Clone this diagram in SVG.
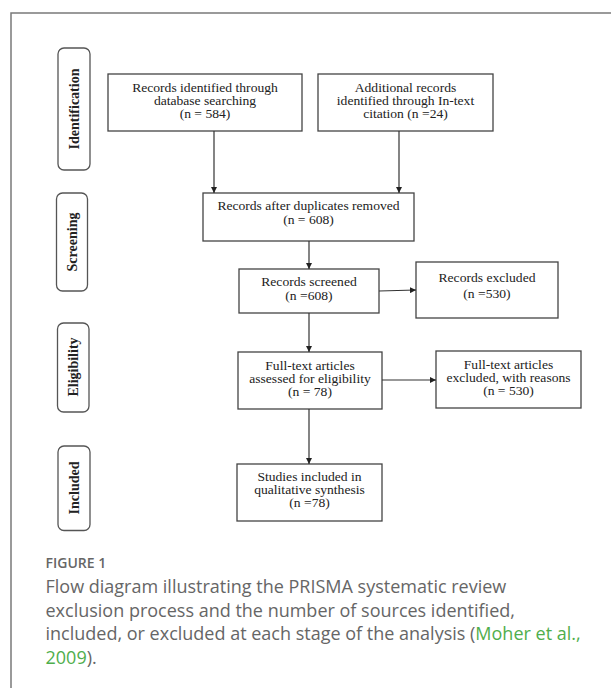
<svg xmlns="http://www.w3.org/2000/svg" width="611" height="688" viewBox="0 0 611 688">
<defs>
<marker id="ah" viewBox="0 0 10 10" refX="10" refY="5" markerWidth="6" markerHeight="6" markerUnits="userSpaceOnUse" orient="auto">
<path d="M0,0 L10,5 L0,10 z" fill="#222"/>
</marker>
<style>
.frame{fill:none;stroke:#7a7a7a;stroke-width:1.5}
.pill{fill:#fff;stroke:#555;stroke-width:1.3}
.box{fill:#fff;stroke:#444;stroke-width:1.3}
.pt{font-family:"Liberation Serif","Times New Roman",serif;font-weight:bold;font-size:14px;fill:#222;text-anchor:middle}
.bt{font-family:"Liberation Serif","Times New Roman",serif;font-size:13.6px;fill:#222;text-anchor:middle}
.conn{fill:none;stroke:#333;stroke-width:1.2;marker-end:url(#ah)}
.fig{font-family:"Open Sans","Noto Sans",sans-serif;font-weight:600;font-size:14px;fill:#666}
.cap{font-family:"Open Sans","Noto Sans",sans-serif;font-size:18px;fill:#666}
.link{fill:#4fae4c}
</style>
</defs>
<rect width="611" height="688" fill="#fff"/>
<path class="frame" d="M11,690 V13 H613"/>

<g id="stage-identification">
<rect class="pill" x="58" y="48" width="32" height="122" rx="6"/>
<text class="pt" transform="translate(78.5,109) rotate(-90)">Identification</text>
</g>
<g id="stage-screening">
<rect class="pill" x="56.5" y="193" width="31" height="98" rx="6"/>
<text class="pt" transform="translate(77,242) rotate(-90)">Screening</text>
</g>
<g id="stage-eligibility">
<rect class="pill" x="57.5" y="323" width="31.5" height="89" rx="6"/>
<text class="pt" transform="translate(78,367) rotate(-90)">Eligibility</text>
</g>
<g id="stage-included">
<rect class="pill" x="58" y="446" width="32" height="84.5" rx="6"/>
<text class="pt" transform="translate(78.5,488) rotate(-90)">Included</text>
</g>

<g id="box-database">
<rect class="box" x="108" y="74" width="194" height="57"/>
<text class="bt" x="205" y="0" transform="translate(0,91.7) scale(1,0.86)">Records identified through</text>
<text class="bt" x="205" y="0" transform="translate(0,104.9) scale(1,0.86)">database searching</text>
<text class="bt" x="205" y="0" transform="translate(0,118.1) scale(1,0.86)">(n = 584)</text>
</g>
<g id="box-additional">
<rect class="box" x="318" y="74" width="175" height="57"/>
<text class="bt" x="405.5" y="0" transform="translate(0,91.7) scale(1,0.86)">Additional records</text>
<text class="bt" x="405.5" y="0" transform="translate(0,104.9) scale(1,0.86)">identified through In-text</text>
<text class="bt" x="405.5" y="0" transform="translate(0,118.1) scale(1,0.86)">citation (n =24)</text>
</g>
<g id="box-duplicates">
<rect class="box" x="203" y="193" width="211" height="48"/>
<text class="bt" x="308.5" y="0" transform="translate(0,210.4) scale(1,0.86)">Records after duplicates removed</text>
<text class="bt" x="308.5" y="0" transform="translate(0,224.4) scale(1,0.86)">(n = 608)</text>
</g>
<g id="box-screened">
<rect class="box" x="239" y="269" width="140" height="44"/>
<text class="bt" x="309" y="0" transform="translate(0,286.3) scale(1,0.86)">Records screened</text>
<text class="bt" x="309" y="0" transform="translate(0,300) scale(1,0.86)">(n =608)</text>
</g>
<g id="box-excluded">
<rect class="box" x="416" y="262" width="142" height="56"/>
<text class="bt" x="487" y="0" transform="translate(0,281.5) scale(1,0.86)">Records excluded</text>
<text class="bt" x="487" y="0" transform="translate(0,298.2) scale(1,0.86)">(n =530)</text>
</g>
<g id="box-fulltext">
<rect class="box" x="238" y="352" width="144" height="57"/>
<text class="bt" x="310" y="0" transform="translate(0,369.5) scale(1,0.86)">Full-text articles</text>
<text class="bt" x="310" y="0" transform="translate(0,382.7) scale(1,0.86)">assessed for eligibility</text>
<text class="bt" x="310" y="0" transform="translate(0,395.9) scale(1,0.86)">(n = 78)</text>
</g>
<g id="box-fulltext-excluded">
<rect class="box" x="436" y="351" width="145" height="57"/>
<text class="bt" x="508.5" y="0" transform="translate(0,368.5) scale(1,0.86)">Full-text articles</text>
<text class="bt" x="508.5" y="0" transform="translate(0,381.7) scale(1,0.86)">excluded, with reasons</text>
<text class="bt" x="508.5" y="0" transform="translate(0,394.9) scale(1,0.86)">(n = 530)</text>
</g>
<g id="box-included">
<rect class="box" x="237" y="464" width="145" height="57"/>
<text class="bt" x="309.5" y="0" transform="translate(0,481) scale(1,0.86)">Studies included in</text>
<text class="bt" x="309.5" y="0" transform="translate(0,494.2) scale(1,0.86)">qualitative synthesis</text>
<text class="bt" x="309.5" y="0" transform="translate(0,507.4) scale(1,0.86)">(n =78)</text>
</g>

<g id="connectors">
<line class="conn" x1="214" y1="131" x2="214" y2="193"/>
<line class="conn" x1="399" y1="131" x2="399" y2="193"/>
<line class="conn" x1="309" y1="241" x2="309" y2="269"/>
<line class="conn" x1="379" y1="291" x2="416" y2="290"/>
<line class="conn" x1="309" y1="313" x2="309" y2="352"/>
<line class="conn" x1="382" y1="380" x2="436" y2="380"/>
<line class="conn" x1="309" y1="409" x2="309" y2="464"/>
</g>

<g id="caption">
<text class="fig" x="45.5" y="568">FIGURE 1</text>
<text class="cap" x="45.5" y="593">Flow diagram illustrating the PRISMA systematic review</text>
<text class="cap" x="45.5" y="616.5">exclusion process and the number of sources identified,</text>
<text class="cap" x="45.5" y="640">included, or excluded at each stage of the analysis (<tspan class="link">Moher et al.,</tspan></text>
<text class="cap" x="45.5" y="663.5"><tspan class="link">2009</tspan>).</text>
</g>
</svg>
